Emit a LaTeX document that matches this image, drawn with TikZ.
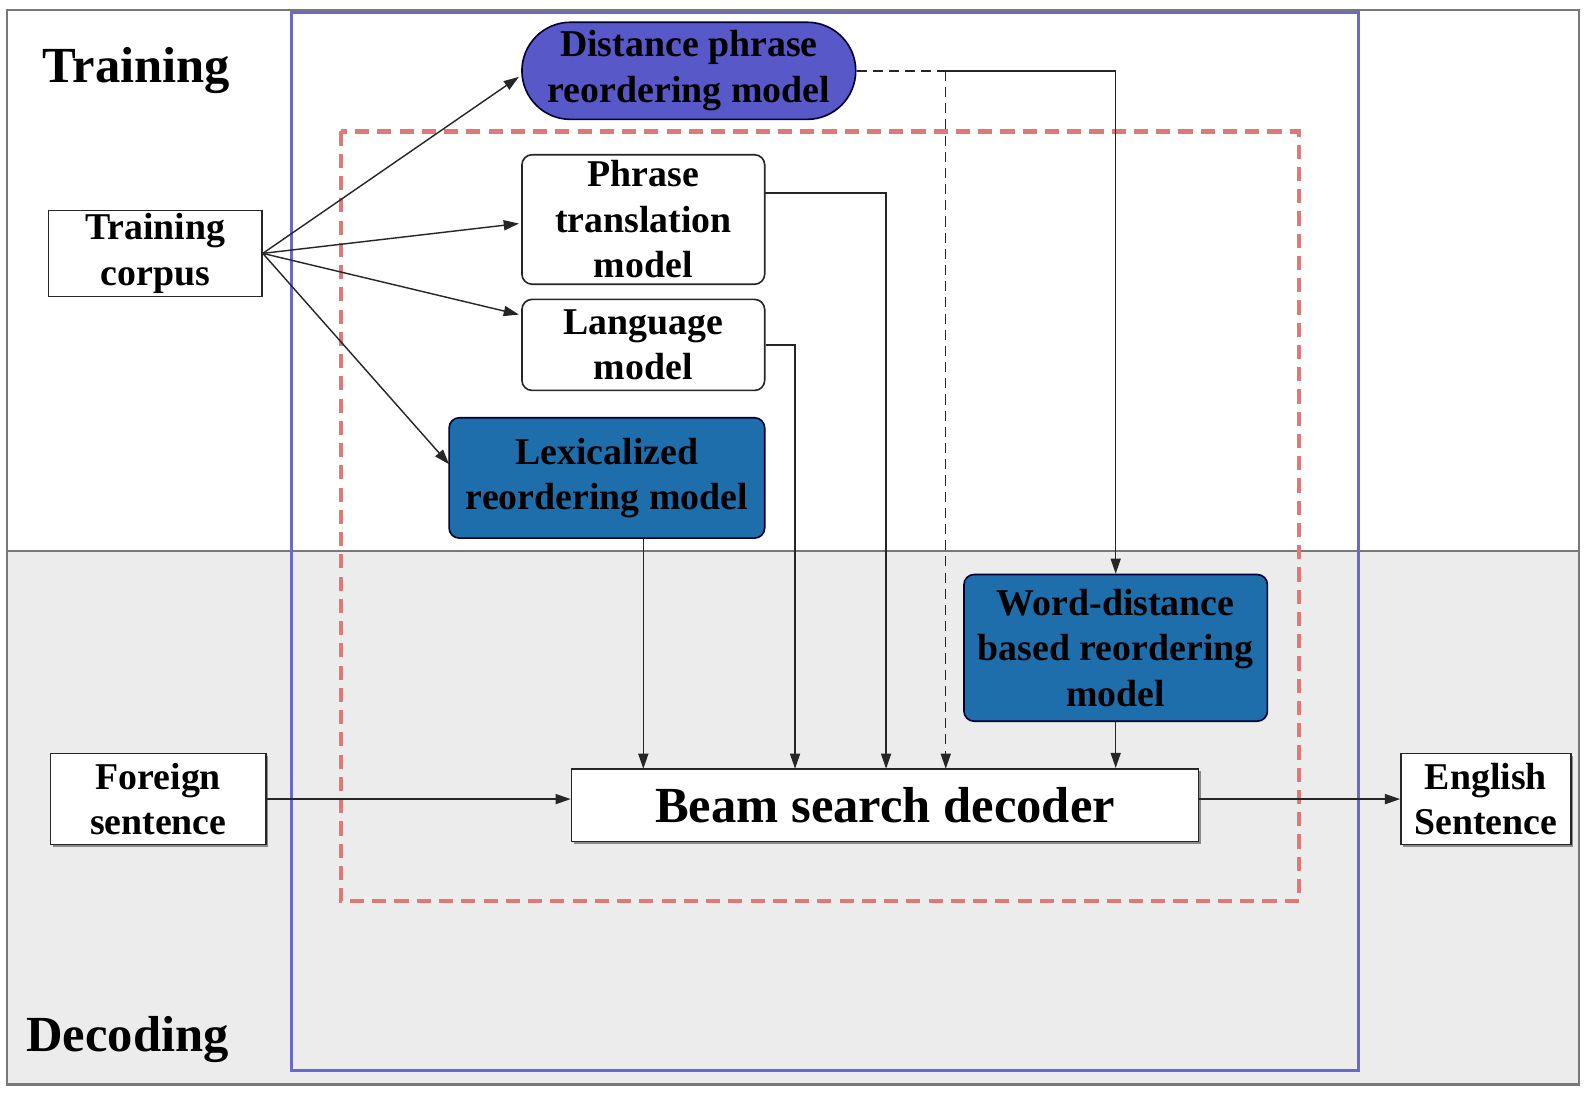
\documentclass[tikz,border=0pt]{standalone}
\usepackage{fontspec}
\setmainfont{Liberation Serif}
\usetikzlibrary{arrows.meta,calc,shadows}
\definecolor{frameblue}{RGB}{105,105,205}
\definecolor{dashred}{RGB}{225,120,120}
\definecolor{distfill}{RGB}{88,88,200}
\definecolor{boxblue}{RGB}{30,110,172}
\definecolor{lightbg}{RGB}{236,236,236}
\definecolor{bordergray}{RGB}{120,120,120}
\begin{document}
\begin{tikzpicture}[x=0.5pt,y=-0.5pt,
  every node/.style={font=\fontsize{18.7}{22.5}\selectfont\bfseries},
  box/.style={draw=black!85, line width=0.8pt, fill=white, inner sep=0pt, align=center},
  shbox/.style={box, drop shadow={shadow xshift=1.2pt, shadow yshift=-1.2pt, fill=black!55, opacity=0.8}},
  rbox/.style={box, rounded corners=5pt},
  bluebox/.style={box, rounded corners=5pt, fill=boxblue, draw=black!80!blue},
  conn/.style={line width=0.7pt, draw=black!85, -{Triangle[length=7.5pt,width=5pt]}},
  connd/.style={conn, dash pattern=on 5pt off 3pt},
  title/.style={font=\fontsize{25}{28}\selectfont\bfseries}
]
\useasboundingbox (0,0) rectangle (1566,1080);
% regions
\fill[white] (0,0) rectangle (1566,1080);
\fill[lightbg] (7,545) rectangle (1561,1072);
\draw[bordergray, line width=1.2pt] (7,10) rectangle (1561,1072);
\draw[bordergray, line width=1.2pt] (7,545) -- (1561,545);
% frames
\draw[frameblue, line width=1.6pt] (288,12) rectangle (1343,1058);
\draw[dashred, line width=2pt, dash pattern=on 7pt off 4pt] (337,130) rectangle (1284,891);
% titles
\node[title] (ttrain) at (135,70) {Training};
\node[title] (tdec) at (126,1028) {Decoding};
% nodes
\node[box, minimum width=105.5pt, minimum height=42.5pt] (tc) at (153.5,250.5) {Training\\corpus};
\node[box, rounded corners=24pt, fill=distfill, draw=black!80!blue, minimum width=165pt, minimum height=48pt] (dist) at (681,70) {Distance phrase\\reordering model};
\node[rbox, minimum width=120pt, minimum height=64pt] (phr) at (636,217) {Phrase\\translation\\model};
\node[rbox, minimum width=120pt, minimum height=45pt] (lang) at (636,341) {Language\\model};
\node[bluebox, minimum width=156pt, minimum height=59.5pt] (lex) at (600,472.5) {Lexicalized\\reordering model};
\node[bluebox, minimum width=150pt, minimum height=72.5pt] (word) at (1103,640.5) {Word-distance\\based reordering\\model};
\node[shbox, minimum width=106.5pt, minimum height=45pt] (for) at (156.5,790) {Foreign\\sentence};
\node[shbox, minimum width=310pt, minimum height=36pt, font=\fontsize{25}{28}\selectfont\bfseries] (beam) at (875,796) {Beam search decoder};
\node[shbox, minimum width=84pt, minimum height=45pt] (eng) at (1469,790) {English\\Sentence};
% helper coordinates
\coordinate (tcout) at (tc.east);
\coordinate (distin) at (513,76);
\coordinate (phrin) at (513,221);
\coordinate (langin) at (513,311);
\coordinate (lexin) at (444,459);
\coordinate (phrout) at (756,191);
\coordinate (dashturn) at (935,70);
% training arrows
\draw[conn] (tcout) -- (distin);
\draw[conn] (tcout) -- (phrin);
\draw[conn] (tcout) -- (langin);
\draw[conn] (tcout) -- (lexin);
% into decoder
\draw[conn] (lex.south -| 636,0) -- (636,760);
\draw[conn] (lang.east) -| (786,760);
\draw[conn] (phrout) -| (876,760);
\draw[line width=0.7pt, draw=black!85, dash pattern=on 5pt off 3pt] (dist.east) -- (dashturn);
\draw[connd] (dashturn) -- (935,760);
\draw[conn] (dashturn) -| (word.north);
\draw[conn] (word.south) -- (word.south |- beam.north);
\draw[conn] (for.east) -- (for.east -| beam.west);
\draw[conn] (beam.east |- eng.west) -- (eng.west);
\end{tikzpicture}
\end{document}
